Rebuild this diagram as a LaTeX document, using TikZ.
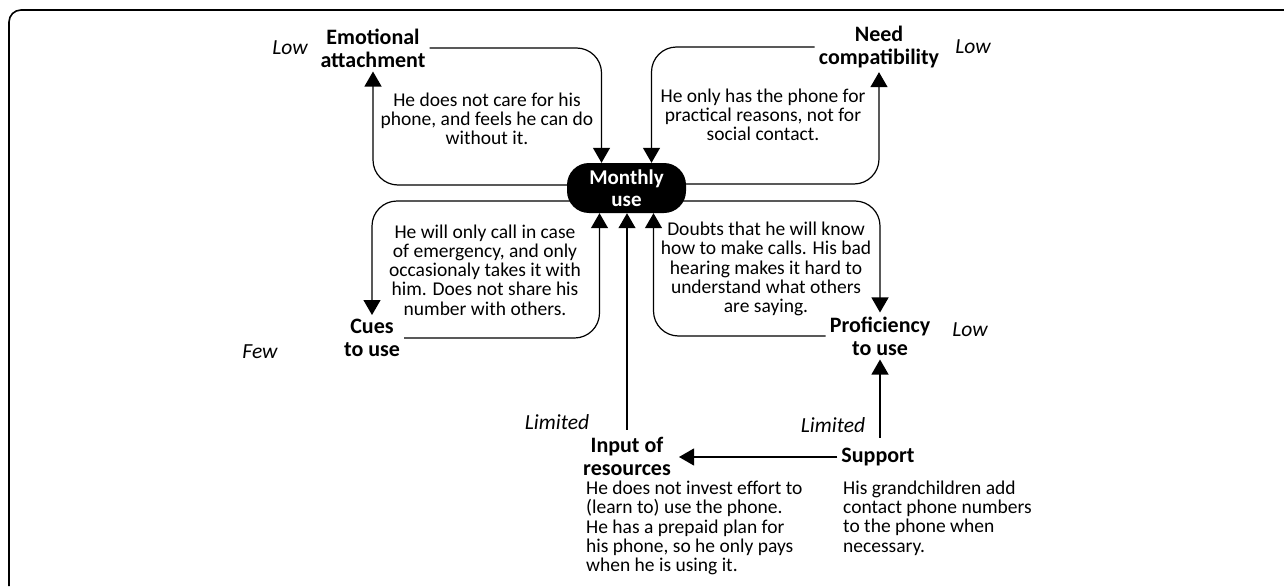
\documentclass[tikz,border=0pt]{standalone}
\usepackage{fontspec}
\setmainfont{Carlito}
\usetikzlibrary{arrows.meta, calc}
\tikzstyle{factor} =
[rectangle, text centered, align=center, inner sep=4pt,
font=\fontsize{22}{23}\selectfont\bfseries]
\tikzstyle{outcome} =
[rectangle, rounded corners=22pt, minimum width=119pt, minimum height=50pt,
text centered, align=center, fill=black, text=white, inner sep=0pt,
font=\fontsize{21}{22}\selectfont\bfseries]
\tikzstyle{remark} =
[rectangle, align=center, inner sep=0pt, font=\fontsize{19.5}{19.2}\selectfont]
\tikzstyle{remarkleft} =
[rectangle, align=left, inner sep=0pt, font=\fontsize{19.5}{19.2}\selectfont]
\tikzstyle{level} =
[inner sep=0pt, font=\fontsize{21.5}{22}\selectfont\itshape]
\tikzstyle{line} = [draw, line width=1.2pt, rounded corners=25pt,
-{Triangle[length=15pt,width=17pt]}]

\begin{document}
\begin{tikzpicture}[x=1pt, y=-1pt]
  \useasboundingbox (0,0) rectangle (1284,586);
  % frame
  \draw [line width=1.6pt, rounded corners=12pt] (1284,10) -- (9,10) -- (9,586);
  % factor nodes
  \node [outcome] (mu) at (626.5,188) {Monthly\\use};
  \node [factor] (emo) at (373,48) {Emotional\\attachment};
  \node [factor] (need) at (879,47) {Need\\compatibility};
  \node [factor] (cues) at (372,338) {Cues\\to use};
  \node [factor] (prof) at (880,336) {Proficiency\\to use};
  \node [factor, inner ysep=1pt] (input) at (627,456) {Input of\\resources};
  \node [factor] (supp) at (878,457) {Support};
  % levels
  \node [level, left of=emo, node distance=83pt] (emolow) {Low};
  \node [level, right of=need, node distance=94pt] (needlow) {Low};
  \node [level] (cuesfew) at (260,352) {Few};
  \node [level] (proflow) at (970,330) {Low};
  \node [level] (inputlim) at (557,422) {Limited};
  \node [level] (supplim) at (833,425) {Limited};
  % remarks
  \node [remark] (emotxt) at (487,119)
   {He does not care for his\\phone, and feels he can do\\without it.};
  \node [remark] (needtxt) at (763,115)
   {He only has the phone for\\practical reasons, not for\\social contact.};
  \node [remark] (cuestxt) at (485,270)
   {He will only call in case\\of emergency, and only\\occasionaly takes it with\\him. Does not share his\\number with others.};
  \node [remark] (proftxt) at (766,269)
   {Doubts that he will know\\how to make calls. His bad\\hearing makes it hard to\\understand what others\\are saying.};
  \node [remarkleft, anchor=west] (inputtxt) at (586,528)
   {He does not invest effort to\\(learn to) use the phone.\\He has a prepaid plan for\\his phone, so he only pays\\when he is using it.};
  \node [remarkleft, anchor=west] (supptxt) at (843,518)
   {His grandchildren add\\contact phone numbers\\to the phone when\\necessary.};
  % loops
  \path [line] ($(mu.center)+(-50,-3)$) -| (emo.south);
  \path [line] (emo.east) -| ($(mu.north)+(-25,0)$);
  \path [line] (need.west) -| ($(mu.north)+(25,0)$);
  \path [line] ($(mu.center)+(50,-4)$) -| (need.south);
  \path [line] ($(mu.center)+(-50,13)$) -| (cues.north);
  \path [line] (cues.east) -| ($(mu.south)+(-27,0)$);
  \path [line] ($(mu.center)+(50,13)$) -| (prof.north);
  \path [line] (prof.west) -| ($(mu.south)+(27,0)$);
  % straight edges
  \path [line] ($(input.north)+(0,-6)$) -- (mu.south -| input.north);
  \path [line] ($(supp.north)+(2,-6)$) -- (prof.south);
  \path [line] (supp.west) -- ($(supp.west -| input.east)+(4,0)$);
\end{tikzpicture}
\end{document}
